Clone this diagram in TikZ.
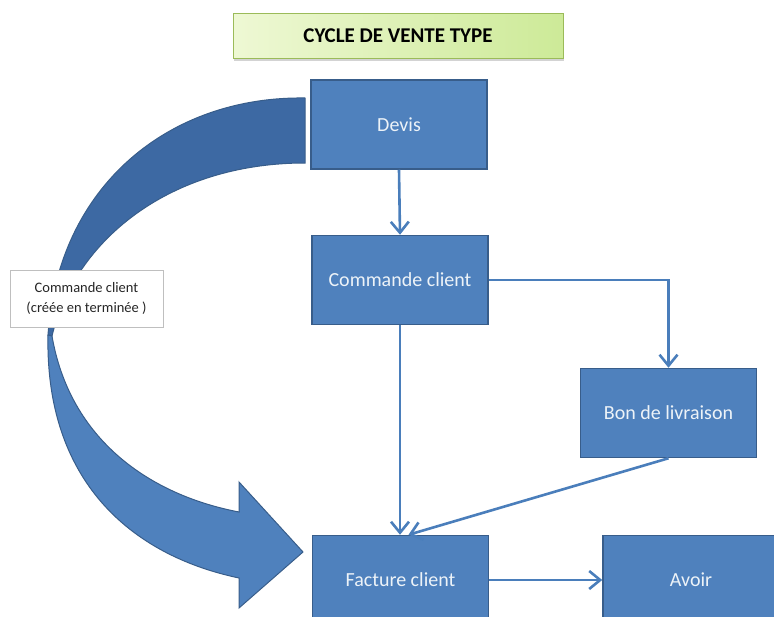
\documentclass[tikz,border=0pt]{standalone}
\usepackage{fontspec}
\setmainfont{Carlito}
\usetikzlibrary{calc, arrows.meta, shadows}
\definecolor{bluBox}{HTML}{4F81BD}
\definecolor{bluBordo}{HTML}{385D8A}
\definecolor{bluScuro}{HTML}{3D69A3}
\definecolor{bluLinea}{HTML}{4A7EBB}
\definecolor{verdeChiaro}{HTML}{EEF8D4}
\definecolor{verdeScuro}{HTML}{CDEA98}
\definecolor{verdeBordo}{HTML}{9BBB59}

\begin{document}
\begin{tikzpicture}[x=1pt,y=-1pt,
        blocco/.style={draw=bluBordo, line width=1.5pt, fill=bluBox, text=white!90!bluBox,
            minimum width=176pt, minimum height=89pt, inner sep=0pt,
            font=\fontsize{20}{24}\selectfont},
        freccia/.style={draw=bluLinea, line width=2.6pt, -{Straight Barb[length=11pt,width=18pt]}}]
        \useasboundingbox (0,0) rectangle (774,616);
        \clip (0,0) rectangle (774,616);
        %titolo
        \node[draw=verdeBordo, left color=verdeChiaro, right color=verdeScuro,
            minimum width=330pt, minimum height=45pt,
            drop shadow={shadow xshift=1pt, shadow yshift=-3pt, opacity=0.35},
            font=\bfseries\fontsize{21}{25}\selectfont] (titolo) at (398,35.5) {CYCLE DE VENTE TYPE};
        %freccia curva, parte dietro (scura)
        \draw[fill=bluScuro, draw=bluBordo, line width=1pt] (305,98) .. controls (170,96) and (58,185) .. (48,335)
            -- (52,336) .. controls (75,240) and (170,163) .. (305,163) -- cycle;
        %freccia curva, parte davanti con la punta
        \draw[fill=bluBox, draw=bluBordo, line width=1pt] (48,335) .. controls (45,480) and (130,555) .. (239,578)
            -- (239,608) -- (303,552) -- (239,482) -- (239,512)
            .. controls (150,495) and (70,440) .. (52,336) -- cycle;
        %etichetta
        \node[draw=black!25, fill=white, minimum width=153pt, minimum height=57pt, inner sep=0pt,
            align=center, text=black!85, font=\fontsize{14.5}{20}\selectfont] (etichetta) at (86.5,298.5)
            {Commande client\\(créée en terminée )};
        %blocchi
        \node[blocco] (devis) at (399,124.5) {Devis};
        \node[blocco] (comm) at (400,280) {Commande client};
        \node[blocco] (bon) at (668.5,413) {Bon de livraison};
        \node[blocco] (fatt) at (400.5,580) {Facture client};
        \node[blocco] (avoir) at (691,580) {Avoir};
        %collegamenti
        \draw[freccia] (devis.south) -- (comm.north);
        \draw[freccia] (comm.east) -| (bon.north);
        \draw[freccia] (comm.south) -- (comm.south |- fatt.north);
        \draw[freccia] (bon.south) -- ([xshift=8pt]fatt.north);
        \draw[freccia] (fatt.east) -- (avoir.west);
    \end{tikzpicture}
\end{document}
